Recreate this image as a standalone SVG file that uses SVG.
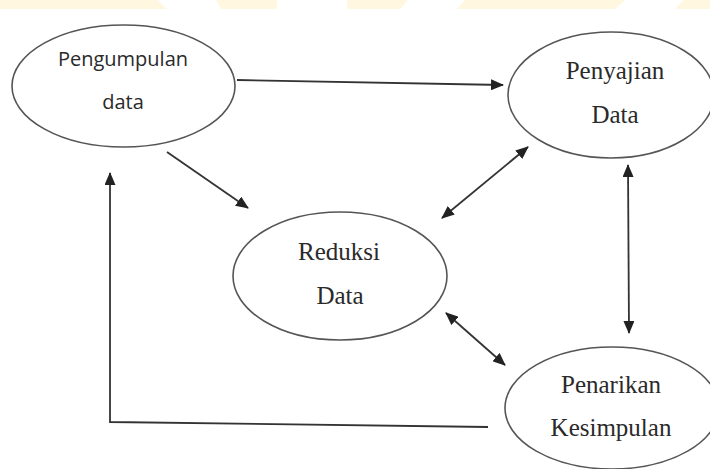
<svg xmlns="http://www.w3.org/2000/svg" width="710" height="469" viewBox="0 0 710 469">
<style>
.node{fill:#ffffff;stroke:#555;stroke-width:1.6}
.sans{font-family:"Open Sans","Liberation Sans",sans-serif;font-size:20px;fill:#2a2a2a;text-anchor:middle}
.serif{font-family:"Liberation Serif","Times New Roman",serif;font-size:25px;fill:#2a2a2a;text-anchor:middle}
.edge{fill:none;stroke:#333;stroke-width:1.8}
.band{fill:#fff7e0}
</style>
<defs>
<marker id="ah" markerUnits="userSpaceOnUse" markerWidth="13" markerHeight="11" viewBox="0 0 13 11" refX="12" refY="5.5" orient="auto-start-reverse">
<path d="M0,0 L13,5.5 L0,11 z" fill="#222"/>
</marker>
</defs>
<rect width="710" height="469" fill="#ffffff"/>
<g id="banner">
<polygon class="band" points="0,0 157,0 167,9 0,9"/>
<polygon class="band" points="216,0 277,0 277,9 221,9"/>
<polygon class="band" points="347,0 408,0 400,9 347,9"/>
<polygon class="band" points="465,0 625,0 615,9 457,9"/>
<polygon class="band" points="683,0 710,0 710,9 675,9"/>
</g>
<g id="connectors">
<line class="edge" x1="237" y1="80" x2="503" y2="85" marker-end="url(#ah)"/>
<line class="edge" x1="167" y1="152" x2="248" y2="208" marker-end="url(#ah)"/>
<line class="edge" x1="442" y1="218" x2="528" y2="147" marker-start="url(#ah)" marker-end="url(#ah)"/>
<line class="edge" x1="628" y1="165" x2="629" y2="333" marker-start="url(#ah)" marker-end="url(#ah)"/>
<line class="edge" x1="446" y1="313" x2="505" y2="365" marker-start="url(#ah)" marker-end="url(#ah)"/>
<polyline class="edge" points="488,427 110,422 110,173" marker-end="url(#ah)"/>
</g>
<g id="pengumpulan">
<ellipse class="node" cx="123.5" cy="86" rx="111.5" ry="61"/>
<text class="sans" x="123" y="66">Pengumpulan</text>
<text class="sans" x="123" y="109">data</text>
</g>
<g id="penyajian">
<ellipse class="node" cx="611" cy="95" rx="103" ry="63"/>
<text class="serif" x="615" y="79">Penyajian</text>
<text class="serif" x="615" y="123">Data</text>
</g>
<g id="reduksi">
<ellipse class="node" cx="340" cy="276" rx="107" ry="64"/>
<text class="serif" x="339" y="260">Reduksi</text>
<text class="serif" x="340" y="304">Data</text>
</g>
<g id="penarikan">
<ellipse class="node" cx="612" cy="408" rx="107" ry="61"/>
<text class="serif" x="611" y="393">Penarikan</text>
<text class="serif" x="611" y="436">Kesimpulan</text>
</g>
</svg>
